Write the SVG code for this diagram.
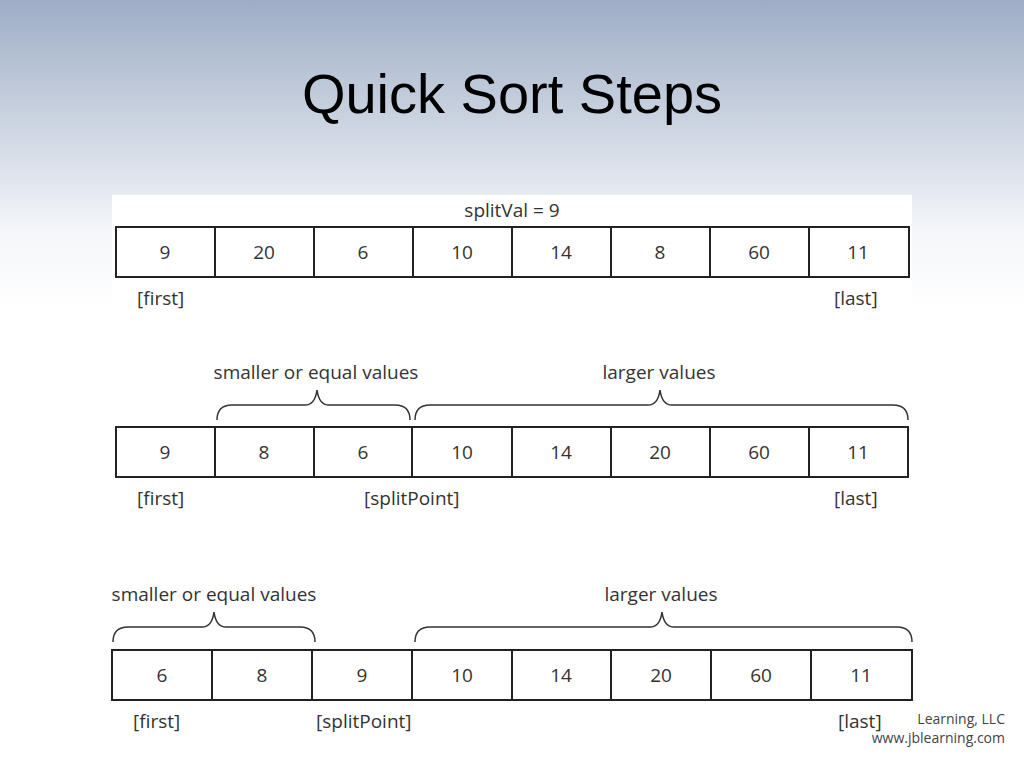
<svg xmlns="http://www.w3.org/2000/svg" width="1024" height="768" viewBox="0 0 1024 768">
<defs>
<linearGradient id="bg" x1="0" y1="0" x2="0" y2="1">
<stop offset="0" stop-color="#9eadc6"/><stop offset="0.3" stop-color="#f4f6f9"/><stop offset="0.4" stop-color="#ffffff"/><stop offset="1" stop-color="#ffffff"/>
</linearGradient>
</defs>
<style>
.c{fill:#fff;stroke:#222;stroke-width:2}
.t{font-family:"Open Sans","Liberation Sans",sans-serif;font-size:19px;fill:#333;text-anchor:middle}
.l{font-family:"Open Sans","Liberation Sans",sans-serif;font-size:19px;fill:#333}
.b{fill:none;stroke:#333;stroke-width:1.5}
</style>
<rect width="1024" height="768" fill="url(#bg)"/>
<rect x="112" y="195" width="800" height="555" fill="#fff"/>
<text x="512" y="113" font-family="Liberation Sans,sans-serif" font-size="56" text-anchor="middle" fill="#000">Quick Sort Steps</text>
<text class="t" x="512" y="217">splitVal = 9</text>
<g id="row1">
<rect class="c" x="116" y="227" width="793" height="50"/>
<path class="b" d="M215 227V277M314 227V277M413 227V277M512 227V277M611 227V277M710 227V277M809 227V277" style="stroke:#222;stroke-width:2"/>
<text class="t" x="165" y="259">9</text><text class="t" x="264" y="259">20</text><text class="t" x="363" y="259">6</text><text class="t" x="462" y="259">10</text><text class="t" x="561" y="259">14</text><text class="t" x="660" y="259">8</text><text class="t" x="759" y="259">60</text><text class="t" x="858" y="259">11</text>
<text class="l" x="137" y="305">[first]</text><text class="l" x="834" y="305">[last]</text>
</g>
<g id="row2">
<rect class="c" x="116" y="427" width="792" height="50"/>
<path d="M215 427V477M314 427V477M412 427V477M512 427V477M611 427V477M710 427V477M809 427V477" style="stroke:#222;stroke-width:2"/>
<text class="t" x="165" y="459">9</text><text class="t" x="264" y="459">8</text><text class="t" x="363" y="459">6</text><text class="t" x="462" y="459">10</text><text class="t" x="561" y="459">14</text><text class="t" x="660" y="459">20</text><text class="t" x="759" y="459">60</text><text class="t" x="858" y="459">11</text>
<text class="l" x="137" y="505">[first]</text><text class="l" x="364" y="505">[splitPoint]</text><text class="l" x="834" y="505">[last]</text>
<text class="t" x="316" y="379">smaller or equal values</text><text class="t" x="659" y="379">larger values</text>
</g>
<g id="row3">
<rect class="c" x="112" y="650" width="800" height="50"/>
<path d="M212 650V700M312 650V700M412 650V700M512 650V700M611 650V700M711 650V700M811 650V700" style="stroke:#222;stroke-width:2"/>
<text class="t" x="162" y="682">6</text><text class="t" x="262" y="682">8</text><text class="t" x="362" y="682">9</text><text class="t" x="462" y="682">10</text><text class="t" x="561" y="682">14</text><text class="t" x="661" y="682">20</text><text class="t" x="761" y="682">60</text><text class="t" x="861" y="682">11</text>
<text class="l" x="133" y="728">[first]</text><text class="l" x="316" y="728">[splitPoint]</text><text class="l" x="838" y="728">[last]</text>
<text class="t" x="214" y="601">smaller or equal values</text><text class="t" x="661" y="601">larger values</text>
</g>
<text x="1005" y="724" font-family="Open Sans,sans-serif" font-size="14" fill="#444" text-anchor="end">Learning, LLC</text>
<text x="1005" y="743" font-family="Open Sans,sans-serif" font-size="14" fill="#444" text-anchor="end">www.jblearning.com</text>
<g id="connectors">
<path class="b" d="M217 420Q217 405 232 405H305Q315 405 317 390Q319 405 329 405H395Q410 405 410 420"/>
<path class="b" d="M415 420Q415 405 430 405H648Q658 405 660 390Q662 405 672 405H893Q908 405 908 420"/>
<path class="b" d="M113 642Q113 627 128 627H202Q212 627 214 612Q216 627 226 627H300Q315 627 315 642"/>
<path class="b" d="M415 642Q415 627 430 627H650Q660 627 662 612Q664 627 674 627H897Q912 627 912 642"/>
</g>
</svg>
